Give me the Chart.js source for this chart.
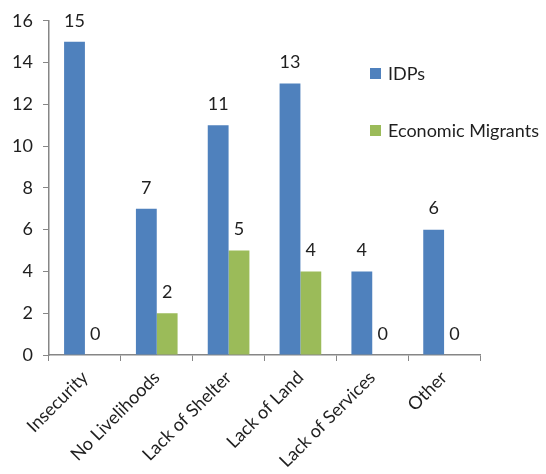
<!DOCTYPE html>
<html>
<head>
<meta charset="utf-8">
<script src="https://cdn.jsdelivr.net/npm/chart.js@4"></script>
<style>
  html, body { margin: 0; padding: 0; background: #fff; }
  #wrap { width: 546px; height: 474px; }
</style>
</head>
<body>
<div id="wrap"><canvas id="causesChart"></canvas></div>
<script>
const categories = ["Insecurity", "No Livelihoods", "Lack of Shelter", "Lack of Land", "Lack of Services", "Other"];
const idpValues = [15, 7, 11, 13, 4, 6];
const migrantValues = [0, 2, 5, 4, 0, 0];
const yTicks = [0, 2, 4, 6, 8, 10, 12, 14, 16];

const FONT = "Lato";
const TEXT = "#1f1f1f";
const AXIS = "#868686";

// value labels above each bar
const valueLabelPlugin = {
  id: 'valueLabels',
  afterDatasetsDraw(chart) {
    const { ctx } = chart;
    ctx.save();
    ctx.font = `18px ${FONT}`;
    ctx.fillStyle = TEXT;
    ctx.textAlign = 'center';
    ctx.textBaseline = 'middle';
    chart.data.datasets.forEach((ds, i) => {
      const meta = chart.getDatasetMeta(i);
      meta.data.forEach((bar, j) => {
        ctx.fillText(String(ds.data[j]), bar.x, bar.y - 21);
      });
    });
    ctx.restore();
  }
};

// legend drawn inside the plot, top right
const insideLegendPlugin = {
  id: 'insideLegend',
  afterDraw(chart) {
    const { ctx } = chart;
    const x = 370, y0 = 73, step = 57;
    ctx.save();
    ctx.font = `18px ${FONT}`;
    ctx.textBaseline = 'middle';
    ctx.textAlign = 'left';
    chart.data.datasets.forEach((ds, i) => {
      const y = y0 + i * step;
      ctx.fillStyle = ds.backgroundColor;
      ctx.fillRect(x, y - 5, 11, 11);
      ctx.fillStyle = TEXT;
      ctx.fillText(ds.label, x + 18, y + 1);
    });
    ctx.restore();
  }
};

new Chart(document.getElementById('causesChart'), {
  type: 'bar',
  data: {
    labels: categories,
    datasets: [
      { label: 'IDPs', data: idpValues, backgroundColor: '#4F81BD',
        categoryPercentage: 0.58, barPercentage: 1.0 },
      { label: 'Economic Migrants', data: migrantValues, backgroundColor: '#9BBB59',
        categoryPercentage: 0.58, barPercentage: 1.0 }
    ]
  },
  options: {
    responsive: true,
    maintainAspectRatio: false,
    animation: false,
    layout: { padding: { top: 20, right: 66, left: 0, bottom: 0 } },
    scales: {
      x: {
        grid: { drawOnChartArea: false, drawTicks: true, tickLength: 6, color: AXIS, offset: true },
        border: { color: AXIS, width: 1.5 },
        ticks: { color: TEXT, font: { family: FONT, size: 18 }, minRotation: 45, maxRotation: 45, padding: 6 },
        afterFit(scale) { scale.height = 119; }
      },
      y: {
        min: 0,
        max: 16,
        afterBuildTicks(scale) { scale.ticks = yTicks.map(v => ({ value: v })); },
        grid: { drawOnChartArea: false, drawTicks: true, tickLength: 6, color: AXIS },
        border: { color: AXIS, width: 1.5 },
        ticks: { color: TEXT, font: { family: FONT, size: 18 }, padding: 10 },
        afterFit(scale) { scale.width = 49; }
      }
    },
    plugins: {
      legend: { display: false },
      tooltip: { enabled: false }
    }
  },
  plugins: [valueLabelPlugin, insideLegendPlugin]
});
</script>
</body>
</html>
